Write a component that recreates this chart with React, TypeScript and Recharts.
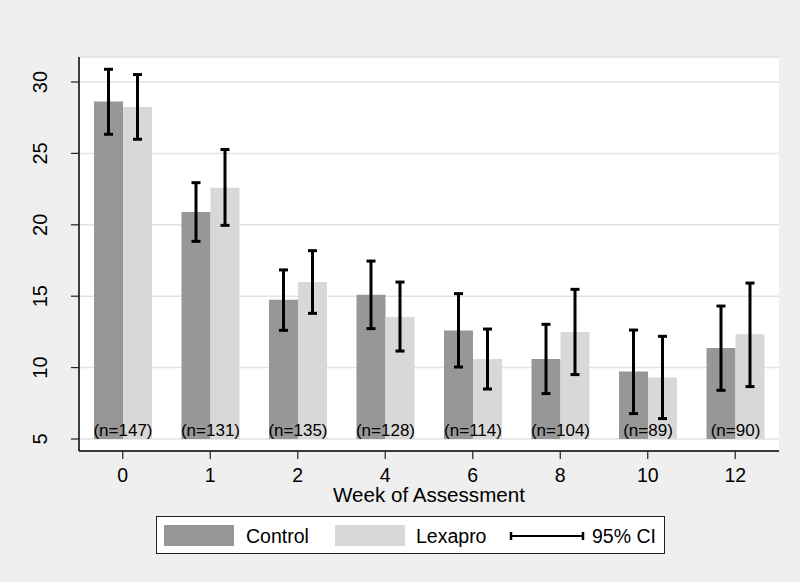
import React from 'react';
import { BarChart, Bar, XAxis, YAxis, CartesianGrid, ErrorBar, LabelList, Legend } from 'recharts';

const weeks = ['0', '1', '2', '4', '6', '8', '10', '12'];
const controlMean = [28.63, 20.9, 14.76, 15.11, 12.59, 10.6, 9.72, 11.37];
const controlLow = [26.34, 18.84, 12.61, 12.73, 10.04, 8.18, 6.78, 8.41];
const controlHigh = [30.89, 22.95, 16.84, 17.46, 15.18, 13.03, 12.63, 14.31];
const lexaproMean = [28.25, 22.6, 15.99, 13.54, 10.6, 12.49, 9.3, 12.33];
const lexaproLow = [25.99, 19.96, 13.8, 11.16, 8.5, 9.51, 6.43, 8.67];
const lexaproHigh = [30.52, 25.27, 18.19, 15.99, 12.7, 15.48, 12.19, 15.92];
const sampleSizes = [147, 131, 135, 128, 114, 104, 89, 90];
const yTicks = [5, 10, 15, 20, 25, 30];
const BASE = 5;

const data = weeks.map((w, i) => ({
  week: w,
  control: [BASE, controlMean[i]],
  controlErr: [controlMean[i] - controlLow[i], controlHigh[i] - controlMean[i]],
  lexapro: [BASE, lexaproMean[i]],
  lexaproErr: [lexaproMean[i] - lexaproLow[i], lexaproHigh[i] - lexaproMean[i]],
  nLabel: `(n=${sampleSizes[i]})`,
}));

const FONT = '"Liberation Sans", Arial, Helvetica, sans-serif';
const CONTROL_COLOR = '#979797';
const LEXAPRO_COLOR = '#d8d8d8';

const XTick = (props: any) => {
  const { x, y, payload } = props;
  return (
    <text x={x} y={y + 20.5} textAnchor="middle" fontSize={19.5} fontFamily={FONT} fill="#000">
      {payload.value}
    </text>
  );
};

const YTick = (props: any) => {
  const { x, y, payload } = props;
  const bx = x - 22.3;
  return (
    <text
      x={bx}
      y={y}
      transform={`rotate(-90, ${bx}, ${y})`}
      textAnchor="middle"
      fontSize={20}
      fontFamily={FONT}
      fill="#000"
    >
      {payload.value}
    </text>
  );
};

const NLabel = (props: any) => {
  const { x, y, height, value } = props;
  return (
    <text x={x} y={y + height - 3} textAnchor="middle" fontSize={17} fontFamily={FONT} fill="#000">
      {value}
    </text>
  );
};

const AxisTitle = (props: any) => {
  const vb = props.viewBox || {};
  return (
    <text x={vb.x + vb.width / 2} y={vb.y + 50.7} textAnchor="middle" fontSize={20.6} fontFamily={FONT} fill="#000">
      Week of Assessment
    </text>
  );
};

const LegendContent = () => (
  <svg width={510} height={39} style={{ display: 'block' }}>
    <rect x={0.5} y={0.5} width={508} height={37} fill="#fff" stroke="#222" strokeWidth={1} />
    <rect x={8} y={9} width={70} height={21} fill={CONTROL_COLOR} />
    <text x={90} y={27.3} fontSize={19.5} fontFamily={FONT} fill="#000">Control</text>
    <rect x={179} y={9} width={70} height={21} fill={LEXAPRO_COLOR} />
    <text x={260} y={27.3} fontSize={19.5} fontFamily={FONT} fill="#000">Lexapro</text>
    <line x1={355} y1={20} x2={427} y2={20} stroke="#000" strokeWidth={2} />
    <line x1={355} y1={16} x2={355} y2={24} stroke="#000" strokeWidth={2.5} />
    <line x1={427} y1={16} x2={427} y2={24} stroke="#000" strokeWidth={2.5} />
    <text x={436} y={27.3} fontSize={19.5} fontFamily={FONT} fill="#000">95% CI</text>
  </svg>
);

export default function App() {
  return (
    <div style={{ position: 'absolute', left: 0, top: 0, width: 800, height: 582, background: '#efefef' }}>
      <BarChart
        width={800}
        height={582}
        data={data}
        margin={{ top: 57, right: 21, bottom: 0, left: 0 }}
        barGap={0}
        barSize={29}
      >
        <CartesianGrid vertical={false} stroke="#e2e2e2" strokeWidth={1.5} fill="#ffffff" />
        <XAxis
          dataKey="week"
          height={131}
          interval={0}
          tickSize={8}
          tickLine={{ stroke: '#222', strokeWidth: 1.2 }}
          axisLine={{ stroke: '#000', strokeWidth: 1.5 }}
          tick={<XTick />}
          label={<AxisTitle />}
        />
        <YAxis
          type="number"
          domain={[4.16, 31.75]}
          ticks={yTicks}
          interval={0}
          allowDataOverflow
          width={79}
          tickSize={8}
          tickLine={{ stroke: '#222', strokeWidth: 1.2 }}
          axisLine={{ stroke: '#000', strokeWidth: 1.5 }}
          tick={<YTick />}
        />
        <Legend
          layout="horizontal"
          verticalAlign="middle"
          align="center"
          wrapperStyle={{ left: 156, top: 516, width: 510, height: 39 }}
          content={<LegendContent />}
        />
        <Bar dataKey="control" name="Control" fill={CONTROL_COLOR} isAnimationActive={false}>
          <ErrorBar dataKey="controlErr" direction="y" width={4.5} strokeWidth={3} stroke="#000" />
        </Bar>
        <Bar dataKey="lexapro" name="Lexapro" fill={LEXAPRO_COLOR} isAnimationActive={false}>
          <ErrorBar dataKey="lexaproErr" direction="y" width={4.5} strokeWidth={3} stroke="#000" />
          <LabelList dataKey="nLabel" content={<NLabel />} />
        </Bar>
      </BarChart>
    </div>
  );
}
